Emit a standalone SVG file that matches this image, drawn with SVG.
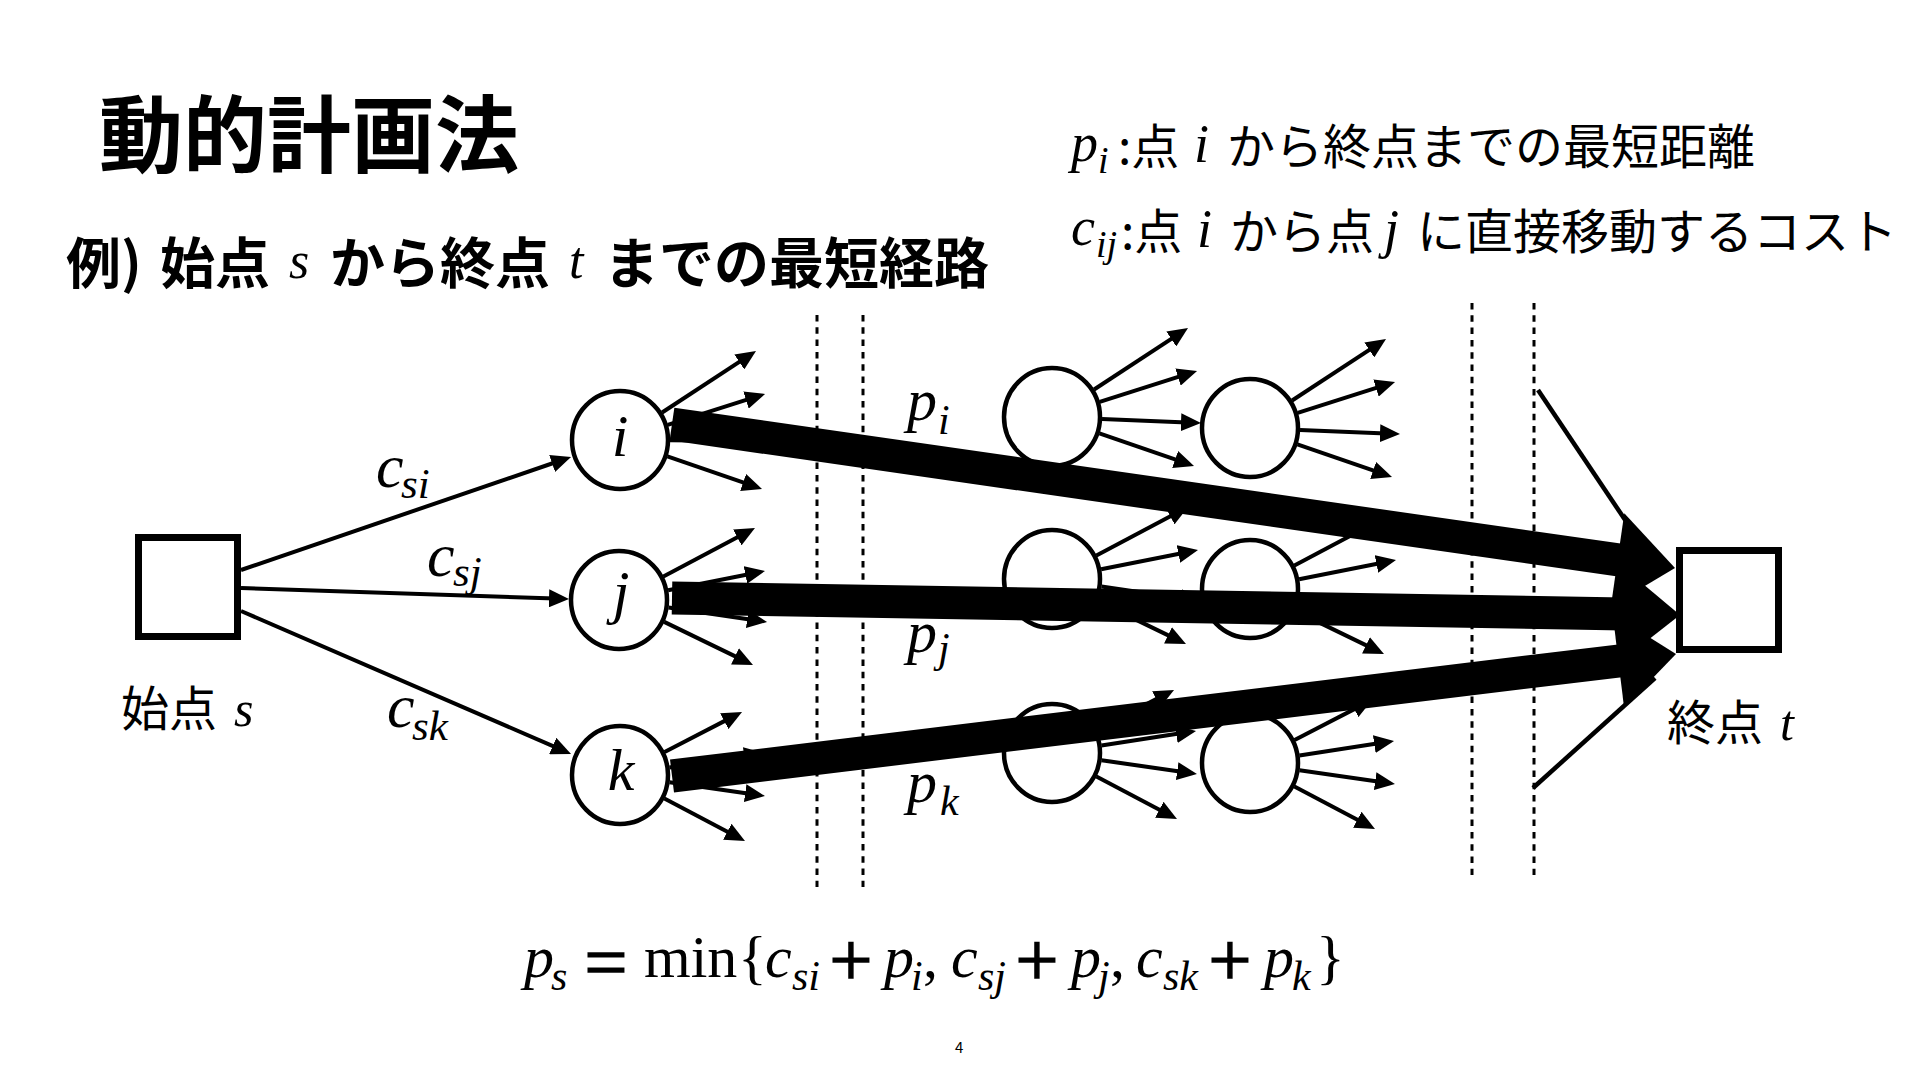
<svg xmlns="http://www.w3.org/2000/svg" width="1920" height="1080" viewBox="0 0 1920 1080">
<style>
.jp{font-family:"Noto Sans CJK JP","Noto Sans CJK SC",sans-serif;fill:#000}
.b{font-weight:700}
.m{font-family:"Liberation Serif","Times New Roman",serif;font-style:italic;fill:#000}
.r{font-family:"Liberation Serif","Times New Roman",serif;font-style:normal;fill:#000}
.op{font-family:"Liberation Serif","Times New Roman",serif;font-style:normal;fill:#000;stroke:#000;stroke-width:1.6;font-size:76px;text-anchor:middle}
.node{fill:#fff;stroke:#000;stroke-width:4.5}
.sq{fill:#fff;stroke:#000;stroke-width:7}
.arr{stroke:#000;stroke-width:4;fill:none;marker-end:url(#ah)}
.dash{stroke:#000;stroke-width:3;stroke-dasharray:6.5 5.8;fill:none}
.band{stroke:#000;stroke-width:33;fill:none}
.thin{stroke:#000;stroke-width:4.5;fill:none}
</style>
<defs>
<marker id="ah" markerUnits="userSpaceOnUse" markerWidth="20" markerHeight="18" refX="6" refY="9" orient="auto"><path d="M0,0L20,9L0,18z" fill="#000"/></marker>
</defs>
<rect x="0" y="0" width="1920" height="1080" fill="#fff"/>

<g id="title">
<text class="jp b" font-size="84" x="99" y="166">動的計画法</text>
</g>
<g id="subtitle">
<text class="jp b" font-size="55" y="283"><tspan x="66">例)</tspan><tspan x="160">始点</tspan><tspan x="330">から終点</tspan><tspan x="604">までの最短経路</tspan></text>
<text class="m" font-size="52" y="278"><tspan x="289">s</tspan><tspan x="569">t</tspan></text>
</g>
<g id="legend">
<text class="m" font-size="54" x="1071" y="161">p</text><text class="m" font-size="38" x="1098" y="173">i</text>
<text class="jp" font-size="48" x="1118" y="164">:点</text>
<text class="m" font-size="54" x="1194" y="162">i</text>
<text class="jp" font-size="48" x="1227" y="164">から終点までの最短距離</text>
<text class="m" font-size="54" x="1071" y="245">c</text><text class="m" font-size="38" x="1096" y="257">ij</text>
<text class="jp" font-size="48" x="1121" y="249">:点</text>
<text class="m" font-size="54" x="1197" y="247">i</text>
<text class="jp" font-size="48" x="1230" y="249">から点</text>
<text class="m" font-size="54" x="1384" y="247">j</text>
<text class="jp" font-size="48" x="1417" y="249">に直接移動するコスト</text>
</g>

<g id="stages">
<line class="dash" x1="817" y1="315" x2="817" y2="887"/>
<line class="dash" x1="863" y1="315" x2="863" y2="887"/>
<line class="dash" x1="1472" y1="303" x2="1472" y2="875"/>
<line class="dash" x1="1534" y1="303" x2="1534" y2="875"/>
</g>

<g id="node-s">
<rect class="sq" x="138.5" y="537.5" width="99" height="99"/>
<text class="jp" font-size="48" x="121" y="726">始点</text>
<text class="m" font-size="50" x="234" y="726">s</text>
</g>
<g id="node-t">
<rect class="sq" x="1679.5" y="550.5" width="99" height="99"/>
<text class="jp" font-size="48" x="1667" y="740">終点</text>
<text class="m" font-size="50" x="1780" y="740">t</text>
</g>
<g id="node-i"><ellipse class="node" cx="620" cy="440" rx="48" ry="49"/><text class="m" font-size="60" x="620" y="456" text-anchor="middle">i</text></g>
<g id="node-j"><ellipse class="node" cx="619" cy="600" rx="48" ry="49"/><text class="m" font-size="60" x="621" y="612" text-anchor="middle">j</text></g>
<g id="node-k"><ellipse class="node" cx="620" cy="775" rx="48" ry="49"/><text class="m" font-size="60" x="621" y="790" text-anchor="middle">k</text></g>
<g id="node-a1"><ellipse class="node" cx="1052" cy="417" rx="48" ry="49"/></g>
<g id="node-a2"><ellipse class="node" cx="1052" cy="579" rx="48" ry="49"/></g>
<g id="node-a3"><ellipse class="node" cx="1052" cy="753" rx="48" ry="49"/></g>
<g id="node-b1"><ellipse class="node" cx="1250" cy="428" rx="48" ry="49"/></g>
<g id="node-b2"><ellipse class="node" cx="1250" cy="589" rx="48" ry="49"/></g>
<g id="node-b3"><ellipse class="node" cx="1250" cy="763" rx="48" ry="49"/></g>

<g id="connectors">
<line class="arr" x1="241" y1="570" x2="557.8" y2="461.5"/>
<line class="arr" x1="241" y1="588" x2="555" y2="598.5"/>
<line class="arr" x1="241" y1="611" x2="558.2" y2="748.4"/>

<g transform="translate(620,440)">
<line class="arr" x1="42.1" y1="-27.5" x2="124.3" y2="-81.3"/>
<line class="arr" x1="47.7" y1="-15.1" x2="131.7" y2="-41.8"/>
<line class="arr" x1="50" y1="0.3" x2="131" y2="1"/>
<line class="arr" x1="47.4" y1="16.3" x2="128.8" y2="44.4"/>
</g>
<g transform="translate(1052,417)">
<line class="arr" x1="42.1" y1="-27.5" x2="124.3" y2="-81.3"/>
<line class="arr" x1="47.7" y1="-15.1" x2="131.7" y2="-41.8"/>
<line class="arr" x1="50" y1="2" x2="135" y2="5.4"/>
<line class="arr" x1="47.4" y1="16.3" x2="128.8" y2="44.4"/>
</g>
<g transform="translate(1250,428)">
<line class="arr" x1="42.1" y1="-27.5" x2="124.3" y2="-81.3"/>
<line class="arr" x1="47.7" y1="-15.1" x2="131.7" y2="-41.8"/>
<line class="arr" x1="50" y1="2" x2="136" y2="5.4"/>
<line class="arr" x1="47.4" y1="16.3" x2="128.8" y2="44.4"/>
</g>
<g transform="translate(619,600)">
<line class="arr" x1="44.4" y1="-23.5" x2="123.6" y2="-65.4"/>
<line class="arr" x1="49.1" y1="-9.7" x2="132.3" y2="-26.3"/>
<line class="arr" x1="49.5" y1="7.4" x2="134.2" y2="19.9"/>
<line class="arr" x1="45.2" y1="21.9" x2="121.4" y2="58.9"/>
</g>
<g transform="translate(1052,579)">
<line class="arr" x1="44.4" y1="-23.5" x2="123.6" y2="-65.4"/>
<line class="arr" x1="49.1" y1="-9.7" x2="132.3" y2="-26.3"/>
<line class="arr" x1="49.5" y1="7.4" x2="134.2" y2="19.9"/>
<line class="arr" x1="45.2" y1="21.9" x2="121.4" y2="58.9"/>
</g>
<g transform="translate(1250,589)">
<line class="arr" x1="44.4" y1="-23.5" x2="123.6" y2="-65.4"/>
<line class="arr" x1="49.1" y1="-9.7" x2="132.3" y2="-26.3"/>
<line class="arr" x1="49.5" y1="7.4" x2="134.2" y2="19.9"/>
<line class="arr" x1="45.2" y1="21.9" x2="121.4" y2="58.9"/>
</g>
<g transform="translate(620,775)">
<line class="arr" x1="44.6" y1="-23" x2="109.6" y2="-56.6"/>
<line class="arr" x1="49.4" y1="-7.6" x2="130.2" y2="-19.9"/>
<line class="arr" x1="49.5" y1="7.2" x2="131.1" y2="19"/>
<line class="arr" x1="44.4" y1="23.4" x2="112.6" y2="59.5"/>
</g>
<g transform="translate(1052,753)">
<line class="arr" x1="44.6" y1="-23" x2="109.6" y2="-56.6"/>
<line class="arr" x1="49.4" y1="-7.6" x2="130.2" y2="-19.9"/>
<line class="arr" x1="49.5" y1="7.2" x2="131.1" y2="19"/>
<line class="arr" x1="44.4" y1="23.4" x2="112.6" y2="59.5"/>
</g>
<g transform="translate(1250,763)">
<line class="arr" x1="44.6" y1="-23" x2="109.6" y2="-56.6"/>
<line class="arr" x1="49.4" y1="-7.6" x2="130.2" y2="-19.9"/>
<line class="arr" x1="49.5" y1="7.2" x2="131.1" y2="19"/>
<line class="arr" x1="44.4" y1="23.4" x2="112.6" y2="59.5"/>
</g>

<line class="thin" x1="1538" y1="390" x2="1660" y2="572"/>
<line class="thin" x1="1533" y1="788" x2="1655" y2="678"/>

<line class="band" x1="672" y1="424" x2="1620" y2="560.2"/>
<polygon points="1624.3,513.3 1675,568 1610.9,606.3" fill="#000"/>
<line class="band" x1="672" y1="598" x2="1624" y2="614"/>
<polygon points="1622.8,567 1680,615 1621.2,661" fill="#000"/>
<line class="band" x1="672" y1="776" x2="1620" y2="660.8"/>
<polygon points="1612.7,614.3 1676,654 1624.1,707.7" fill="#000"/>
</g>

<g id="edge-labels">
<text class="m" font-size="62"><tspan x="376" y="487">c</tspan><tspan x="401" y="498" font-size="43">si</tspan></text>
<text class="m" font-size="62"><tspan x="427" y="576">c</tspan><tspan x="453" y="586" font-size="43">sj</tspan></text>
<text class="m" font-size="62"><tspan x="387" y="727">c</tspan><tspan x="412" y="740" font-size="43">sk</tspan></text>
<text class="m" font-size="60"><tspan x="907" y="420">p</tspan><tspan x="938" y="434" font-size="42">i</tspan></text>
<text class="m" font-size="60"><tspan x="907" y="652">p</tspan><tspan x="938" y="662" font-size="42">j</tspan></text>
<text class="m" font-size="60"><tspan x="907" y="802">p</tspan><tspan x="940" y="815" font-size="42">k</tspan></text>
</g>

<g id="formula">
<text class="r" font-size="60" y="977"><tspan class="m" x="524">p</tspan><tspan class="m" x="551" y="990" font-size="42">s</tspan><tspan x="644" y="977">min</tspan><tspan x="738">{</tspan><tspan class="m" x="765">c</tspan><tspan class="m" x="792" y="990" font-size="42">si</tspan><tspan class="m" x="884" y="977">p</tspan><tspan class="m" x="911" y="990" font-size="42">i</tspan><tspan x="923" y="977">,</tspan><tspan class="m" x="951">c</tspan><tspan class="m" x="978" y="990" font-size="42">sj</tspan><tspan class="m" x="1071" y="977">p</tspan><tspan class="m" x="1098" y="990" font-size="42">j</tspan><tspan x="1110" y="977">,</tspan><tspan class="m" x="1136">c</tspan><tspan class="m" x="1163" y="990" font-size="42">sk</tspan><tspan class="m" x="1264" y="977">p</tspan><tspan class="m" x="1292" y="990" font-size="42">k</tspan><tspan x="1316" y="977">}</tspan></text>
<text class="op" x="606" y="988">=</text>
<text class="op" x="851" y="985">+</text>
<text class="op" x="1037" y="985">+</text>
<text class="op" x="1230" y="985">+</text>
</g>

<g id="page-number">
<text class="jp" font-size="15" x="955" y="1053">4</text>
</g>
</svg>
